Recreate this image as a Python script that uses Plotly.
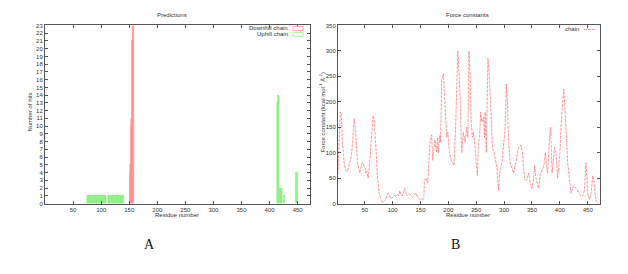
import plotly.graph_objects as go

# ---------------- Data: Predictions (left) ----------------
downhill_res = [151, 152, 153, 154, 155, 156, 157, 158]
downhill_hits = [4, 5, 10, 11, 21, 21, 23, 23]

uphill_res = [76, 77, 78, 79, 80, 81, 82, 83, 84, 85, 86, 87, 88, 89, 90, 91, 92, 93,
              94, 95, 96, 97, 98, 99, 100, 101, 102, 103, 104, 105, 106, 107, 108, 109,
              113, 114, 115, 116, 117, 118, 119, 120, 121, 122, 123, 124, 125, 126, 127,
              128, 129, 130, 131, 132, 133, 134, 135, 136, 137, 138, 139, 140,
              414, 415, 416, 417, 418, 419, 420, 421, 422, 426, 427, 447, 448, 449, 450]
uphill_hits = [1] * 34 + [1] * 28 + [13, 14, 14, 14, 2, 2, 2, 2, 2, 1, 1, 4, 4, 1, 4]

# ---------------- Data: Force constants (right) ----------------
fc_res = [2, 4, 6, 8, 10, 13, 16, 19, 22, 24, 26, 28, 31, 33, 35, 37, 39, 41, 43, 45, 47, 49,
          51, 52, 54, 56, 57, 59, 62, 65, 67, 68, 70, 73, 76, 80, 82, 85, 88, 92, 95, 97,
          100, 103, 106, 109, 111, 113, 115, 117, 119, 122, 124, 126, 130, 133, 136, 139,
          142, 145, 148, 152, 154, 156, 157, 160, 163, 164, 167, 170, 172, 174, 176, 179,
          181, 182, 185, 186, 188, 191, 194, 197, 199, 202, 205, 207, 210, 213, 217, 220,
          222, 224, 227, 230, 233, 235, 237, 239, 241, 243, 245, 248, 250, 252, 254, 256,
          258, 260, 263, 265, 266, 268, 271, 273, 276, 279, 282, 285, 287, 290, 292, 296,
          299, 302, 304, 306, 308, 311, 314, 317, 320, 323, 326, 330, 333, 335, 337, 340,
          342, 344, 347, 350, 353, 355, 357, 360, 362, 365, 368, 370, 372, 374, 376, 378,
          381, 383, 385, 386, 388, 390, 393, 396, 398, 400, 403, 405, 407, 409, 411, 414,
          417, 420, 423, 426, 429, 432, 435, 438, 441, 444, 447, 449, 450, 453, 456, 459,
          461, 463, 465, 468, 471]
fc_val = [58, 120, 180, 178, 120, 80, 65, 63, 75, 80, 93, 120, 167, 150, 110, 80, 70, 60, 70, 80, 80, 72,
          70, 60, 65, 50, 55, 90, 140, 173, 165, 150, 110, 50, 20, 5, 2, 6, 10, 20, 14, 10,
          12, 15, 15, 18, 15, 25, 18, 15, 20, 30, 20, 15, 20, 15, 12, 18,
          20, 12, 9, 8, 8, 12, 45, 50, 40, 60, 120, 135, 85, 110, 125, 100,
          130, 100, 135, 120, 245, 255, 200, 130, 140, 100, 85, 80, 75, 150, 300, 240,
          150, 100, 140, 120, 150, 130, 300, 250, 160, 130, 140, 110, 75, 55, 120, 130,
          180, 160, 170, 130, 180, 100, 285, 260, 190, 110, 100, 85, 70, 25, 60, 80,
          120, 150, 235, 200, 120, 80, 70, 60, 75, 90, 110, 115, 100, 70, 50, 45,
          55, 60, 40, 30, 50, 75, 50, 40, 30, 60, 65, 70, 80, 100, 75, 60,
          120, 150, 100, 60, 80, 110, 100, 50, 70, 100, 170, 200, 225, 190, 150, 80,
          50, 20, 30, 35, 30, 25, 20, 15, 15, 25, 80, 50, 20, 8, 20, 55,
          45, 20, 5, 2, 0]

left_yticks = list(range(0, 24))
x_ticks = [50, 100, 150, 200, 250, 300, 350, 400, 450]
right_yticks = [0, 50, 100, 150, 200, 250, 300, 350]

W, H = 628, 274
FONT = "Liberation Sans"
TICKF = dict(family=FONT, size=6, color="#333333")

def px_x(v):
    return v / W

def px_y(v):
    return 1 - v / H

fig = go.Figure()

fig.add_trace(go.Bar(x=uphill_res, y=uphill_hits, width=1, xaxis="x", yaxis="y",
                     marker=dict(color="#a8f7a0", line=dict(color="#86ec7e", width=0.5)),
                     showlegend=False))
fig.add_trace(go.Bar(x=downhill_res, y=downhill_hits, width=1, xaxis="x", yaxis="y",
                     marker=dict(color="#ffa8a8", line=dict(color="#ff8a8a", width=0.5)),
                     showlegend=False))
fig.add_trace(go.Scatter(x=fc_res, y=fc_val, mode="lines", xaxis="x2", yaxis="y2",
                         line=dict(color="rgba(255,110,110,0.7)", width=1, dash="3px,1px"),
                         showlegend=False))

axis_common = dict(showline=True, linecolor="#555555", linewidth=1, mirror="allticks",
                   ticks="inside", ticklen=3, tickwidth=0.6, tickcolor="#555555",
                   showgrid=False, zeroline=False, tickfont=TICKF)

fig.update_layout(
    width=W, height=H,
    margin=dict(l=0, r=0, t=0, b=0),
    paper_bgcolor="white", plot_bgcolor="white",
    bargap=0,
    barmode="overlay",
    xaxis=dict(domain=[px_x(45), px_x(310)], range=[0, 472], tickvals=x_ticks,
               anchor="y", **axis_common),
    yaxis=dict(domain=[px_y(205), px_y(23)], range=[0, 23], tickvals=left_yticks,
               anchor="x", **axis_common),
    xaxis2=dict(domain=[px_x(338), px_x(600)], range=[2, 472], tickvals=x_ticks,
                anchor="y2", **axis_common),
    yaxis2=dict(domain=[px_y(205), px_y(23)], range=[0, 350], tickvals=right_yticks,
                anchor="x2", **axis_common),
)

small = dict(family=FONT, size=6, color="#333333")
ann = [
    dict(text="Predictions", x=px_x(172), y=px_y(12), font=small),
    dict(text="Force constants", x=px_x(468), y=px_y(12), font=small),
    dict(text="Residue number", x=px_x(177), y=px_y(217), font=small),
    dict(text="Residue number", x=px_x(468), y=px_y(217), font=small),
    dict(text="Number of hits", x=px_x(30), y=px_y(112), font=small, textangle=-90),
    dict(text="Force constant (kcal mol<sup>-1</sup> Å<sup>-2</sup>)", x=px_x(322), y=px_y(112),
         font=small, textangle=-90),
    dict(text="Downhill chain", x=px_x(290), y=px_y(26), font=small, xanchor="right"),
    dict(text="Uphill chain", x=px_x(290), y=px_y(32), font=small, xanchor="right"),
    dict(text="chain", x=px_x(581), y=px_y(27), font=small, xanchor="right"),
    dict(text="A", x=px_x(149), y=px_y(247), font=dict(family="Liberation Serif", size=14, color="#111")),
    dict(text="B", x=px_x(455), y=px_y(247), font=dict(family="Liberation Serif", size=14, color="#111")),
]
for a in ann:
    a.setdefault("xanchor", "center")
    a.update(xref="paper", yref="paper", yanchor="middle", showarrow=False)
fig.update_layout(annotations=ann)

fig.update_layout(shapes=[
    dict(type="rect", xref="paper", yref="paper", x0=px_x(293), x1=px_x(303),
         y0=px_y(28), y1=px_y(24), line=dict(color="#ffa8a8", width=1), fillcolor="white"),
    dict(type="rect", xref="paper", yref="paper", x0=px_x(293), x1=px_x(303),
         y0=px_y(34), y1=px_y(30), line=dict(color="#a8f7a0", width=1), fillcolor="white"),
    dict(type="line", xref="paper", yref="paper", x0=px_x(584), x1=px_x(596),
         y0=px_y(27), y1=px_y(27), line=dict(color="rgba(255,110,110,0.7)", width=1, dash="3px,1px")),
])

fig.write_html("out.html")
